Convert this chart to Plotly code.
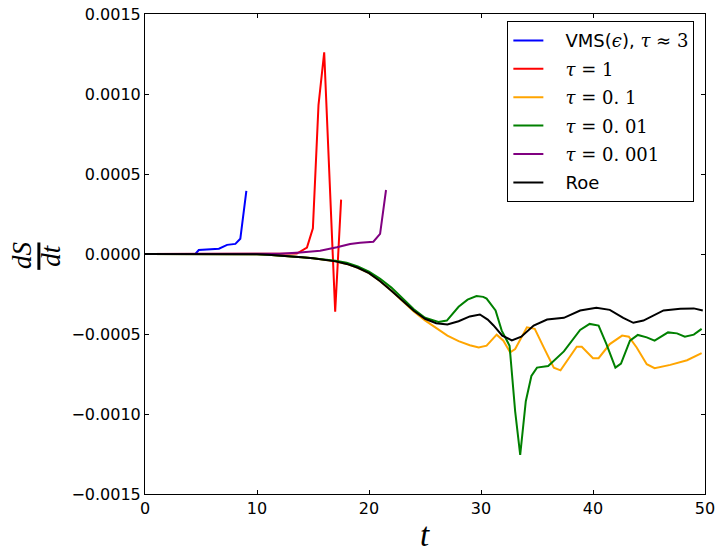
import plotly.graph_objects as go

# ---- data: entropy production rate dS/dt versus time t ----
t_vms = [0, 4.5, 4.8, 5.6, 6.6, 7.33, 8.07, 8.51, 9.05]
s_vms = [0, 0, 2.5e-5, 2.8e-5, 3.3e-5, 5.7e-5, 6.3e-5, 9.5e-5, 3.94e-4]

t_tau1 = [0, 12.0, 13.56, 14.46, 14.99, 15.49, 16.0, 16.98, 17.51]
s_tau1 = [0, 0, 3e-6, 4e-5, 1.6e-4, 9.3e-4, 1.26e-3, -3.6e-4, 3.4e-4]

t_tau01 = [0, 4, 8, 10, 11, 12, 13, 14, 15, 16, 17, 18, 19, 20, 21, 22, 23, 24,
           25, 26, 27, 28, 29, 29.8, 30.5, 31.4, 32.0, 32.6, 33.05, 34.1, 34.8,
           35.6, 36.5, 37.1, 37.95, 38.55, 39.0, 40.0, 40.5, 41.5, 42.6, 43.2,
           43.9, 44.8, 45.5, 46.9, 48.4, 49.7]
s_tau01 = [0, 0, 0, -2e-6, -5e-6, -9e-6, -1.4e-5, -2.0e-5, -2.7e-5, -3.5e-5,
           -4.6e-5, -6.2e-5, -8.6e-5, -1.2e-4, -1.7e-4, -2.3e-4, -2.95e-4,
           -3.6e-4, -4.15e-4, -4.6e-4, -5.1e-4, -5.45e-4, -5.7e-4, -5.84e-4,
           -5.73e-4, -5.04e-4, -5.42e-4, -6.15e-4, -5.94e-4, -4.58e-4, -4.68e-4,
           -5.84e-4, -7.1e-4, -7.27e-4, -6.36e-4, -5.8e-4, -5.8e-4, -6.51e-4,
           -6.51e-4, -5.63e-4, -5.1e-4, -5.17e-4, -5.84e-4, -6.89e-4, -7.14e-4,
           -6.93e-4, -6.64e-4, -6.19e-4]

t_tau001 = [0, 4, 8, 10, 11, 12, 13, 14, 15, 16, 17, 18, 19, 20, 21, 22, 23,
            24, 25, 26.2, 26.95, 28.0, 28.8, 29.6, 30.2, 30.5, 31.3, 31.85,
            32.55, 33.05, 33.5, 34.0, 34.5, 35.0, 36.0, 37.4, 38.85, 39.7, 40.5,
            41.2, 42.0, 42.5, 43.3, 44.0, 44.8, 45.5, 46.7, 47.5, 48.2, 49.0,
            49.7]
s_tau001 = [0, 0, 0, -2e-6, -5e-6, -9e-6, -1.4e-5, -2.0e-5, -2.6e-5, -3.3e-5,
            -4.2e-5, -5.5e-5, -7.8e-5, -1.1e-4, -1.55e-4, -2.1e-4, -2.75e-4,
            -3.45e-4, -3.98e-4, -4.25e-4, -4.16e-4, -3.3e-4, -2.85e-4,
            -2.63e-4, -2.68e-4, -2.79e-4, -3.53e-4, -4.79e-4, -5.73e-4,
            -9.83e-4, -1.255e-3, -9.2e-4, -7.62e-4, -7.1e-4, -7.0e-4, -6.09e-4,
            -4.75e-4, -4.37e-4, -4.47e-4, -5.63e-4, -7.1e-4, -6.85e-4,
            -5.42e-4, -5.06e-4, -5.21e-4, -5.42e-4, -4.9e-4, -4.96e-4,
            -5.17e-4, -5.04e-4, -4.68e-4]

t_tau0001 = [0, 10.0, 12.0, 13.86, 15.64, 17.13, 18.32, 19.2, 20.39, 20.99, 21.52]
s_tau0001 = [0, 0, 2e-6, 1e-5, 2e-5, 4.2e-5, 6.3e-5, 7.1e-5, 7.7e-5, 1.26e-4, 4.0e-4]

t_roe = [0, 4, 8, 10, 11, 12, 13, 14, 15, 16, 17, 18, 19, 20, 21, 22, 23, 24,
         25, 26, 27, 28, 29, 29.9, 30.6, 31.1, 31.9, 32.75, 33.6, 34.7, 35.9,
         37.4, 38.85, 40.3, 41.5, 42.7, 43.6, 44.5, 46.3, 47.8, 49.0, 49.8]
s_roe = [0, 0, 0, -2e-6, -5e-6, -9e-6, -1.4e-5, -2.0e-5, -2.7e-5, -3.5e-5,
         -4.6e-5, -6.2e-5, -8.6e-5, -1.2e-4, -1.7e-4, -2.3e-4, -2.95e-4,
         -3.55e-4, -4.05e-4, -4.33e-4, -4.4e-4, -4.2e-4, -3.9e-4, -3.78e-4,
         -4.1e-4, -4.45e-4, -5.1e-4, -5.4e-4, -5.17e-4, -4.47e-4, -4.1e-4,
         -3.99e-4, -3.53e-4, -3.36e-4, -3.49e-4, -3.99e-4, -4.3e-4, -4.16e-4,
         -3.53e-4, -3.42e-4, -3.4e-4, -3.53e-4]

x_ticks = [0, 10, 20, 30, 40, 50]
y_ticks = [-0.0015, -0.0010, -0.0005, 0.0, 0.0005, 0.0010, 0.0015]

MATH = "DejaVu Serif"


def m(s):
    return f'<span style="font-family:{MATH}">{s}</span>'


NB = "\u00a0"
series = [
    (t_vms, s_vms, NB * 3 + f"VMS({m('<i>ϵ</i>')}), {m('<i>τ</i> ≈ 3')}", "#0000ff"),
    (t_tau1, s_tau1, NB * 3 + m("<i>τ</i> = 1"), "#ff0000"),
    (t_tau01, s_tau01, NB * 3 + m("<i>τ</i> = 0. 1"), "#ffa500"),
    (t_tau001, s_tau001, NB * 3 + m("<i>τ</i> = 0. 01"), "#008000"),
    (t_tau0001, s_tau0001, NB * 3 + m("<i>τ</i> = 0. 001"), "#800080"),
    (t_roe, s_roe, NB * 3 + "Roe", "#000000"),
]

fig = go.Figure()
for i, (tx, sy, name, color) in enumerate(series):
    fig.add_trace(go.Scatter(
        x=tx, y=sy, mode="lines", name=name, legendgroup=f"g{i}",
        line=dict(color=color, width=2),
    ))

axis_common = dict(
    showline=True, linecolor="black", linewidth=1, mirror="allticks",
    ticks="inside", ticklen=4, tickcolor="black", tickwidth=1,
    showgrid=False, zeroline=False, automargin=False,
    ticklabeloverflow="allow",
    tickfont=dict(family="DejaVu Sans", size=16, color="black"),
)

fig.update_layout(
    width=715, height=554,
    margin=dict(l=145, r=10, t=14, b=60),
    paper_bgcolor="white", plot_bgcolor="white",
    xaxis=dict(range=[0, 50], tickvals=x_ticks, ticktext=[str(v) for v in x_ticks],
               **axis_common),
    yaxis=dict(range=[-0.0015, 0.0015], tickvals=y_ticks,
               tickformat=".4f", **axis_common),
    showlegend=True,
    legend=dict(
        x=0.981, y=0.985, xanchor="right", yanchor="top",
        bordercolor="black", borderwidth=1, bgcolor="white",
        font=dict(family="DejaVu Sans", size=18, color="black"),
        tracegroupgap=2, traceorder="grouped",
    ),
)

# x-axis label
fig.add_annotation(text="<i>t</i>", xref="paper", yref="paper", x=0.5, y=-0.0854,
                   xanchor="center", yanchor="middle", showarrow=False,
                   font=dict(family="Liberation Serif", size=33, color="black"))

# y-axis label: dS/dt as a rotated fraction
fig.add_annotation(text="<i>dS</i>", xref="paper", yref="paper",
                   x=-0.2185, y=0.497, xanchor="center", yanchor="middle",
                   textangle=-90, showarrow=False,
                   font=dict(family="Liberation Serif", size=27, color="black"))
fig.add_annotation(text="<i>dt</i>", xref="paper", yref="paper",
                   x=-0.1675, y=0.497, xanchor="center", yanchor="middle",
                   textangle=-90, showarrow=False,
                   font=dict(family="Liberation Serif", size=27, color="black"))
fig.add_shape(type="line", xref="paper", yref="paper",
              x0=-0.1895, x1=-0.1895, y0=0.467, y1=0.524,
              line=dict(color="black", width=3))

fig.write_html("out.html")
